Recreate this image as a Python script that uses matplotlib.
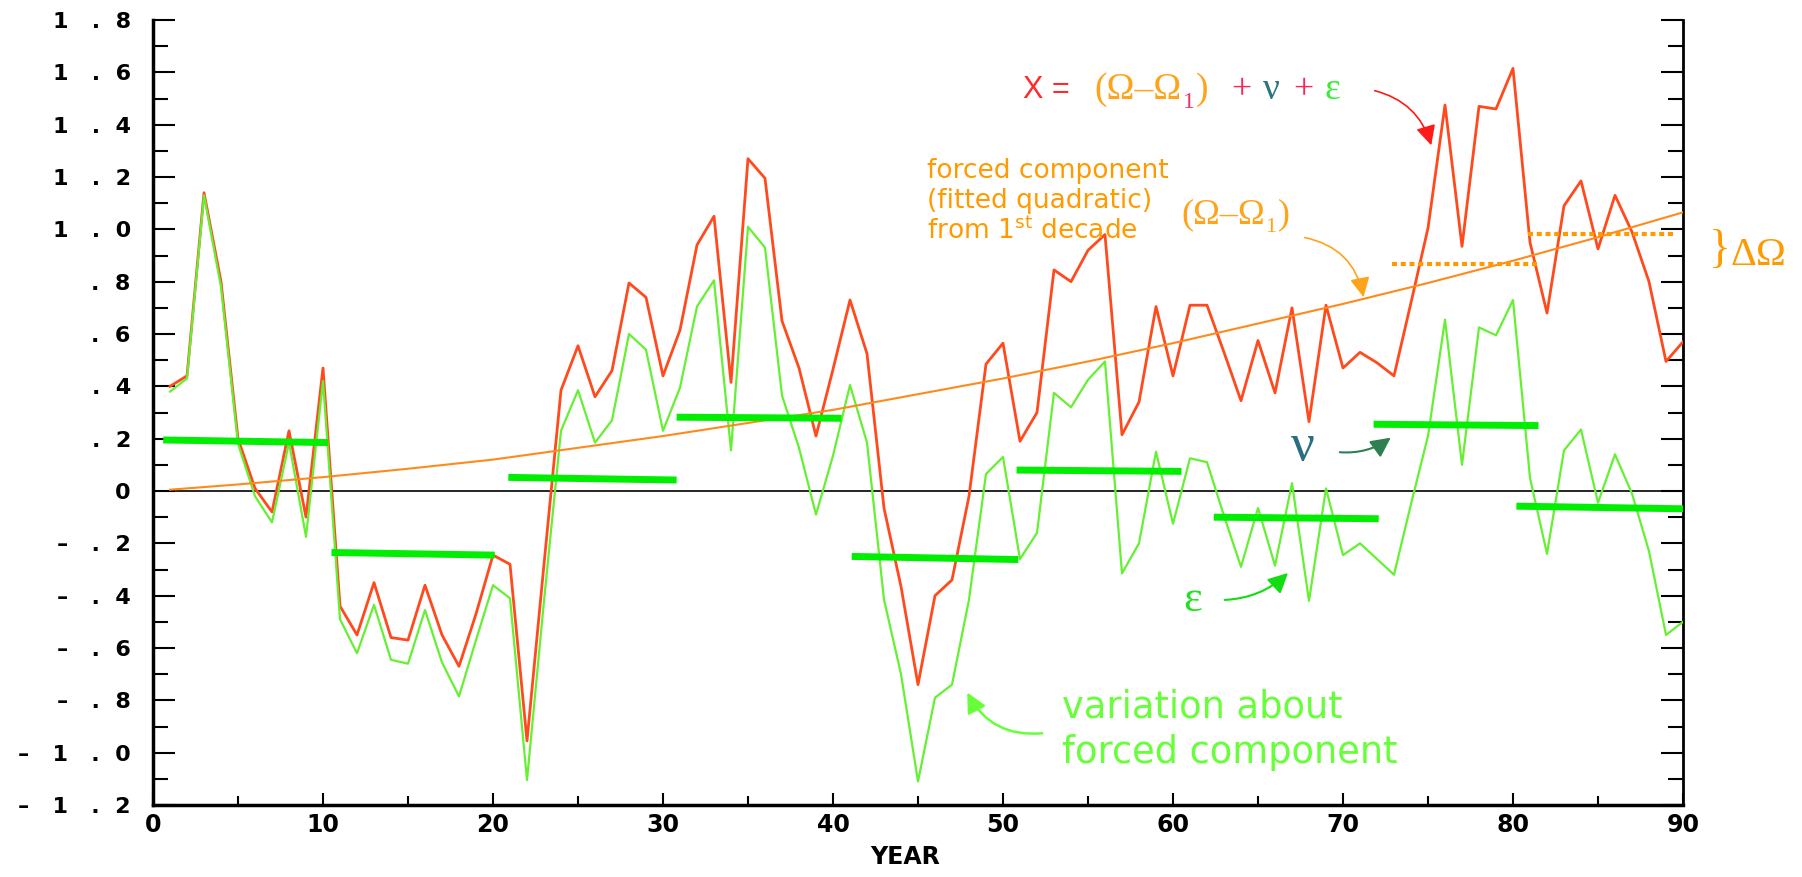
import matplotlib
matplotlib.use("Agg")
import matplotlib.pyplot as plt
from matplotlib.ticker import MultipleLocator

# ---- data ------------------------------------------------------------------
years = list(range(1, 91))

# total signal X (red)
x_total = [
    0.40, 0.44, 1.14, 0.80, 0.20, 0.01, -0.08, 0.23, -0.10, 0.47,
    -0.44, -0.55, -0.35, -0.56, -0.57, -0.36, -0.55, -0.67, -0.47, -0.245,
    -0.28, -0.955, -0.28, 0.385, 0.555, 0.36, 0.46, 0.795, 0.74, 0.44,
    0.615, 0.94, 1.05, 0.415, 1.27, 1.195, 0.65, 0.47, 0.21, 0.465,
    0.73, 0.525, -0.065, -0.365, -0.74, -0.40, -0.34, -0.02, 0.485, 0.565,
    0.19, 0.30, 0.845, 0.80, 0.92, 0.98, 0.215, 0.34, 0.705, 0.44,
    0.71, 0.71, 0.53, 0.345, 0.575, 0.375, 0.70, 0.265, 0.71, 0.47,
    0.53, 0.49, 0.44, 0.72, 1.005, 1.475, 0.935, 1.47, 1.46, 1.615,
    0.95, 0.68, 1.09, 1.185, 0.925, 1.13, 0.99, 0.80, 0.495, 0.57,
]

# variation about the forced component (green)
x_variation = [
    0.38, 0.43, 1.13, 0.78, 0.18, -0.02, -0.12, 0.185, -0.175, 0.42,
    -0.49, -0.62, -0.435, -0.645, -0.66, -0.455, -0.655, -0.785, -0.57, -0.36,
    -0.41, -1.105, -0.42, 0.23, 0.385, 0.185, 0.27, 0.60, 0.54, 0.23,
    0.395, 0.705, 0.805, 0.155, 1.01, 0.93, 0.365, 0.165, -0.09, 0.135,
    0.405, 0.185, -0.415, -0.70, -1.11, -0.79, -0.74, -0.415, 0.065, 0.13,
    -0.26, -0.16, 0.375, 0.32, 0.425, 0.495, -0.315, -0.20, 0.15, -0.125,
    0.125, 0.11, -0.095, -0.29, -0.065, -0.285, 0.03, -0.42, 0.01, -0.245,
    -0.20, -0.26, -0.32, -0.05, 0.21, 0.655, 0.10, 0.625, 0.595, 0.73,
    0.05, -0.24, 0.155, 0.235, -0.045, 0.14, -0.01, -0.23, -0.55, -0.50,
]

# forced component (fitted quadratic), read every 5 years
forced_years = [1, 5, 10, 15, 20, 25, 30, 35, 40, 45, 50, 55, 60, 65, 70, 75, 80, 85, 90]
forced_values = [0.005, 0.025, 0.053, 0.085, 0.12, 0.165, 0.21, 0.26, 0.31, 0.37,
                 0.43, 0.495, 0.565, 0.64, 0.715, 0.795, 0.88, 0.97, 1.065]

# decadal means of the variation (nu)
decade_start = [0.6, 10.5, 20.9, 30.8, 41.1, 50.8, 62.4, 71.8, 80.2]
decade_end = [10.3, 20.1, 30.8, 40.5, 50.9, 60.5, 72.1, 81.5, 90.0]
decade_left = [0.195, -0.235, 0.052, 0.282, -0.25, 0.08, -0.10, 0.255, -0.058]
decade_right = [0.185, -0.245, 0.042, 0.278, -0.262, 0.075, -0.106, 0.25, -0.068]

# Delta Omega markers (dotted)
delta_start = [72.9, 80.9]
delta_end = [81.6, 89.6]
delta_level = [0.868, 0.983]

ytick_values = [-1.2, -1.0, -0.8, -0.6, -0.4, -0.2, 0.0, 0.2, 0.4, 0.6, 0.8,
                1.0, 1.2, 1.4, 1.6, 1.8]
ytick_labels = ["–   1   .  2", "–   1   .  0", "–   .  8", "–   .  6", "–   .  4",
                "–   .  2", "0", ".  2", ".  4", ".  6", ".  8",
                "1   .  0", "1   .  2", "1   .  4", "1   .  6", "1   .  8"]
xtick_values = [0, 10, 20, 30, 40, 50, 60, 70, 80, 90]

# ---- style ---------------------------------------------------------------
RED = "#ff4a1e"
GREEN = "#66f033"
BAR = "#00ee00"
ORANGE = "#ff8a1c"
ORANGE_TXT = "#ff9a00"
GREEN_TXT = "#66ff3a"
SERIF = "Liberation Serif"

W, H = 1802, 877
fig = plt.figure(figsize=(W / 100, H / 100), dpi=100)
ax = fig.add_axes([153 / W, 1 - 805 / H, (1683 - 153) / W, (805 - 20) / H])


def fp(x, y):
    """top-left pixel position -> figure fraction"""
    return (x / W, 1 - y / H)


ax.axhline(0, color="black", lw=1.2, zorder=1)
ax.plot(years, x_total, color=RED, lw=2.0, zorder=3)
ax.plot(years, x_variation, color=GREEN, lw=1.6, zorder=4)
ax.plot(forced_years, forced_values, color=ORANGE, lw=1.5, zorder=5)
for s, e, y0, y1 in zip(decade_start, decade_end, decade_left, decade_right):
    ax.plot([s, e], [y0, y1], color=BAR, lw=5, solid_capstyle="butt", zorder=6)
for s, e, y in zip(delta_start, delta_end, delta_level):
    ax.plot([s, e], [y, y], color="#ff9900", lw=3, linestyle=(0, (1.2, 0.9)), zorder=5)

ax.set_xlim(0, 90)
ax.set_ylim(-1.2, 1.8)
ax.set_yticks(ytick_values, labels=ytick_labels)
ax.yaxis.set_minor_locator(MultipleLocator(0.1))
ax.set_xticks(xtick_values)
ax.xaxis.set_minor_locator(MultipleLocator(5))
for lab in ax.get_yticklabels() + ax.get_xticklabels():
    lab.set_fontweight("bold")
ax.tick_params(axis="y", which="major", direction="in", length=16, width=1.5,
               left=True, right=True, labelsize=16, pad=16)
ax.tick_params(axis="y", which="minor", direction="in", length=11, width=1.5,
               left=True, right=True)
ax.tick_params(axis="x", which="major", direction="in", length=9, width=1.5,
               top=False, labelsize=17, pad=6)
ax.tick_params(axis="x", which="minor", direction="in", length=6.5, width=1.5, top=False)
ax.spines["top"].set_visible(False)
for side in ("left", "bottom"):
    ax.spines[side].set_linewidth(2.5)
ax.spines["right"].set_linewidth(2)

fig.text(*fp(905, 857), "YEAR", ha="center", va="center", fontsize=17, fontweight="bold")

# ---- equation at the top ----------------------------------------------------
fig.text(*fp(1023, 98), "X =", color="#ff2a2a", fontsize=22, family="Liberation Sans", va="baseline")
fig.text(*fp(1094, 99), "(Ω–Ω", color="#ffa31a", fontsize=27, family=SERIF, va="baseline")
fig.text(*fp(1183, 108), "1", color="#ee3366", fontsize=17, family=SERIF, va="baseline")
fig.text(*fp(1196, 99), ")", color="#ffa31a", fontsize=27, family=SERIF, va="baseline")
fig.text(*fp(1231, 99), "+", color="#ff2255", fontsize=26, family=SERIF, va="baseline")
fig.text(*fp(1263, 99), "ν", color="#2a7480", fontsize=27, family=SERIF, va="baseline")
fig.text(*fp(1293, 99), "+", color="#ff2255", fontsize=26, family=SERIF, va="baseline")
fig.text(*fp(1325, 99), "ε", color="#33ee33", fontsize=27, family=SERIF, va="baseline")
ax.annotate("", xy=fp(1432, 148), xytext=fp(1372, 90), xycoords="figure fraction",
            arrowprops=dict(arrowstyle="-|>", color="#ff1a1a", lw=1.2,
                            mutation_scale=30, connectionstyle="arc3,rad=-0.3"))

# ---- forced component annotation -------------------------------------------
fig.text(*fp(927, 158), "forced component\n(fitted quadratic)\nfrom 1$^{\\rm st}$ decade",
         color=ORANGE_TXT, fontsize=19, ha="left", va="top", linespacing=1.18)
fig.text(*fp(1181, 223), "(Ω–Ω", color="#ffa31a", fontsize=26, family=SERIF, va="baseline")
fig.text(*fp(1265, 232), "1", color="#ffa31a", fontsize=16, family=SERIF, va="baseline")
fig.text(*fp(1278, 223), ")", color="#ffa31a", fontsize=26, family=SERIF, va="baseline")
ax.annotate("", xy=fp(1364, 300), xytext=fp(1302, 237), xycoords="figure fraction",
            arrowprops=dict(arrowstyle="-|>", color="#ffa31a", lw=1.2,
                            mutation_scale=30, connectionstyle="arc3,rad=-0.35"))

fig.text(*fp(1709, 251), "}", color="#ff9900", fontsize=33, family=SERIF, va="center", ha="left")
fig.text(*fp(1731, 265), "ΔΩ", color="#ff9900", fontsize=29, family=SERIF, va="baseline", ha="left")

# ---- nu and epsilon labels ---------------------------------------------------
fig.text(*fp(1303, 447), "ν", color="#2a6f80", fontsize=38, family=SERIF, ha="center", va="center")
ax.annotate("", xy=fp(1393, 436), xytext=fp(1337, 452), xycoords="figure fraction",
            arrowprops=dict(arrowstyle="-|>", color="#2f8050", lw=1.5,
                            mutation_scale=30, connectionstyle="arc3,rad=0.2"))
fig.text(*fp(1193, 600), "ε", color="#22e022", fontsize=32, family=SERIF, ha="center", va="center")
ax.annotate("", xy=fp(1290, 571), xytext=fp(1222, 600), xycoords="figure fraction",
            arrowprops=dict(arrowstyle="-|>", color="#11dd11", lw=1.5,
                            mutation_scale=30, connectionstyle="arc3,rad=0.2"))

# ---- variation annotation ----------------------------------------------------
fig.text(*fp(1062, 688), "variation about\nforced component", color=GREEN_TXT,
         fontsize=26.5, ha="left", va="top", linespacing=1.3)
ax.annotate("", xy=fp(966, 690), xytext=fp(1045, 733), xycoords="figure fraction",
            arrowprops=dict(arrowstyle="-|>", color=GREEN_TXT, lw=1.8,
                            mutation_scale=30, connectionstyle="arc3,rad=-0.35"))

fig.savefig("out.png", dpi=100)
